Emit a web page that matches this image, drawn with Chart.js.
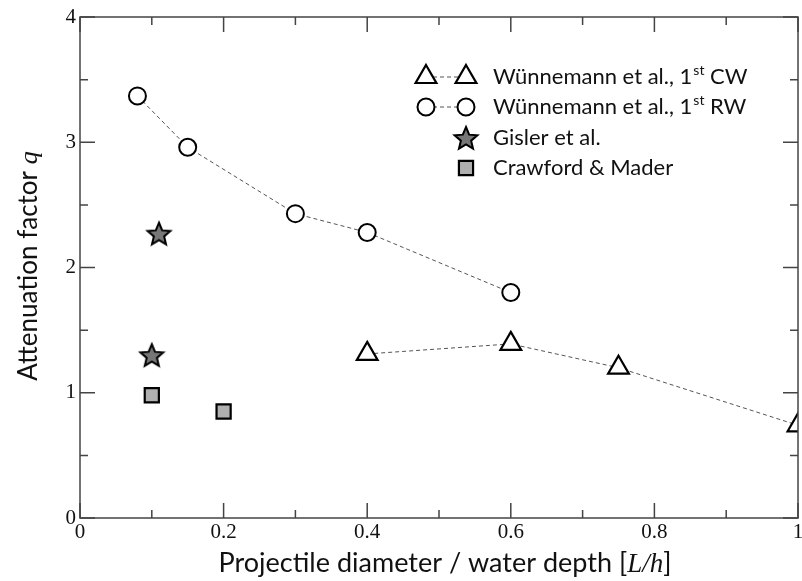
<!DOCTYPE html>
<html>
<head>
<meta charset="utf-8">
<script src="https://cdn.jsdelivr.net/npm/chart.js@4/dist/chart.umd.min.js"></script>
<style>
  html, body { margin: 0; padding: 0; background: #fff; }
  #wrap { width: 802px; height: 581px; }
</style>
</head>
<body>
<div id="wrap"><canvas id="chart" width="802" height="581"></canvas></div>
<script>
// data
const cwX = [0.4, 0.6, 0.75, 1.0];
const cwY = [1.31, 1.39, 1.20, 0.74];
const rwX = [0.08, 0.15, 0.30, 0.40, 0.60];
const rwY = [3.37, 2.96, 2.43, 2.28, 1.80];
const gislerX = [0.11, 0.10];
const gislerY = [2.27, 1.30];
const crawX = [0.10, 0.20];
const crawY = [0.98, 0.85];

const xTicks = [0, 0.2, 0.4, 0.6, 0.8, 1];
const xTickLabels = ['0', '0.2', '0.4', '0.6', '0.8', '1'];
const xMinor = [0.1, 0.3, 0.5, 0.7, 0.9];
const yTicks = [0, 1, 2, 3, 4];
const yTickLabels = ['0', '1', '2', '3', '4'];
const yMinor = [0.5, 1.5, 2.5, 3.5];

const legendNames = [
  ['Wünnemann et al., 1', 'st', ' CW'],
  ['Wünnemann et al., 1', 'st', ' RW'],
  ['Gisler et al.', '', ''],
  ['Crawford & Mader', '', '']
];

const pts = (xs, ys) => xs.map((x, i) => ({ x: x, y: ys[i] }));

// filled 5-point star as a point style
function makeStar(size, fill) {
  const c = document.createElement('canvas');
  c.width = size; c.height = size;
  const g = c.getContext('2d');
  const cx = size / 2, cy = size / 2 + 1, ro = size / 2 - 2, ri = ro * 0.45;
  g.beginPath();
  for (let i = 0; i < 10; i++) {
    const r = i % 2 === 0 ? ro : ri;
    const a = -Math.PI / 2 + i * Math.PI / 5;
    g.lineTo(cx + r * Math.cos(a), cy + r * Math.sin(a));
  }
  g.closePath();
  g.fillStyle = fill;
  g.fill();
  g.lineWidth = 2;
  g.lineJoin = 'miter';
  g.strokeStyle = '#000';
  g.stroke();
  return c;
}
const starImg = makeStar(28, '#777777');

const lineColor = '#555555';

// axes frame, inward ticks, labels, titles and legend
const decor = {
  id: 'decor',
  afterDraw(chart) {
    const ctx = chart.ctx;
    const a = chart.chartArea;
    const xs = chart.scales.x, ys = chart.scales.y;
    ctx.save();
    ctx.strokeStyle = '#444';
    ctx.lineWidth = 1.5;
    ctx.strokeRect(a.left, a.top, a.right - a.left, a.bottom - a.top);

    const tick = (p, len, horiz) => {
      ctx.beginPath();
      if (horiz) {
        ctx.moveTo(p, a.bottom); ctx.lineTo(p, a.bottom - len);
        ctx.moveTo(p, a.top); ctx.lineTo(p, a.top + len);
      } else {
        ctx.moveTo(a.left, p); ctx.lineTo(a.left + len, p);
        ctx.moveTo(a.right, p); ctx.lineTo(a.right - len, p);
      }
      ctx.stroke();
    };
    xTicks.forEach(v => tick(xs.getPixelForValue(v), 15, true));
    xMinor.forEach(v => tick(xs.getPixelForValue(v), 8, true));
    yTicks.forEach(v => tick(ys.getPixelForValue(v), 15, false));
    yMinor.forEach(v => tick(ys.getPixelForValue(v), 8, false));

    ctx.fillStyle = '#111';
    ctx.font = '21px "Liberation Serif", serif';
    ctx.textAlign = 'center';
    ctx.textBaseline = 'top';
    xTicks.forEach((v, i) => ctx.fillText(xTickLabels[i], xs.getPixelForValue(v), a.bottom + 4));
    ctx.textAlign = 'right';
    ctx.textBaseline = 'middle';
    yTicks.forEach((v, i) => ctx.fillText(yTickLabels[i], a.left - 4, ys.getPixelForValue(v)));

    // x title with italic part
    const sans = '"Lato", "Open Sans", sans-serif';
    const parts = [
      ['Projectile diameter / water depth [', '27px ' + sans],
      ['L/h', 'italic 27px "Liberation Serif", serif'],
      [']', '27px ' + sans]
    ];
    let w = 0;
    parts.forEach(p => { ctx.font = p[1]; w += ctx.measureText(p[0]).width; });
    let x = 445 - w / 2;
    ctx.textAlign = 'left';
    ctx.textBaseline = 'alphabetic';
    parts.forEach(p => { ctx.font = p[1]; ctx.fillText(p[0], x, 572); x += ctx.measureText(p[0]).width; });

    // y title, rotated
    ctx.save();
    ctx.translate(37, 266);
    ctx.rotate(-Math.PI / 2);
    const yparts = [
      ['Attenuation factor ', '26px ' + sans],
      ['q', 'italic 26px "Liberation Serif", serif']
    ];
    w = 0;
    yparts.forEach(p => { ctx.font = p[1]; w += ctx.measureText(p[0]).width; });
    x = -w / 2;
    yparts.forEach(p => { ctx.font = p[1]; ctx.fillText(p[0], x, 0); x += ctx.measureText(p[0]).width; });
    ctx.restore();

    // legend
    const rows = [77, 107, 138, 168];
    const sx1 = 426, sx2 = 466, tx = 493;
    const ds = chart.data.datasets;
    rows.forEach((ry, i) => {
      const d = ds[i];
      if (i < 2) {
        ctx.save();
        ctx.strokeStyle = lineColor;
        ctx.lineWidth = 1;
        ctx.setLineDash([4, 3]);
        ctx.beginPath(); ctx.moveTo(sx1, ry); ctx.lineTo(sx2, ry); ctx.stroke();
        ctx.restore();
      }
      const opts = {
        pointStyle: d.pointStyle, radius: d.pointRadius, rotation: 0,
        borderWidth: d.pointBorderWidth
      };
      ctx.save();
      ctx.fillStyle = d.pointBackgroundColor;
      ctx.strokeStyle = '#000';
      ctx.lineWidth = d.pointBorderWidth;
      if (i < 2) Chart.helpers.drawPoint(ctx, opts, sx1, ry);
      Chart.helpers.drawPoint(ctx, opts, sx2, ry);
      ctx.restore();

      const n = legendNames[i];
      ctx.fillStyle = '#111';
      ctx.textBaseline = 'middle';
      ctx.font = '22px ' + sans;
      let lx = tx;
      ctx.fillText(n[0], lx, ry);
      lx += ctx.measureText(n[0]).width;
      if (n[1]) {
        ctx.font = '14px ' + sans;
        ctx.fillText(n[1], lx + 1, ry - 7);
        lx += ctx.measureText(n[1]).width + 1;
        ctx.font = '22px ' + sans;
        ctx.fillText(n[2], lx, ry);
      }
    });
    ctx.restore();
  }
};

new Chart(document.getElementById('chart'), {
  type: 'scatter',
  data: {
    datasets: [
      {
        label: 'Wünnemann et al., 1st CW',
        data: pts(cwX, cwY),
        showLine: true,
        borderColor: lineColor,
        borderWidth: 1,
        borderDash: [4, 3],
        pointStyle: 'triangle',
        pointRadius: 12,
        pointBorderWidth: 2.2,
        pointBorderColor: '#000',
        pointBackgroundColor: '#fff'
      },
      {
        label: 'Wünnemann et al., 1st RW',
        data: pts(rwX, rwY),
        showLine: true,
        borderColor: lineColor,
        borderWidth: 1,
        borderDash: [4, 3],
        pointStyle: 'circle',
        pointRadius: 8.5,
        pointBorderWidth: 2,
        pointBorderColor: '#000',
        pointBackgroundColor: '#fff'
      },
      {
        label: 'Gisler et al.',
        data: pts(gislerX, gislerY),
        pointStyle: starImg,
        pointRadius: 14,
        pointBorderWidth: 2,
        pointBackgroundColor: '#777777'
      },
      {
        label: 'Crawford & Mader',
        data: pts(crawX, crawY),
        pointStyle: 'rect',
        pointRadius: 10,
        pointBorderWidth: 2.2,
        pointBorderColor: '#000',
        pointBackgroundColor: '#b0b0b0'
      }
    ]
  },
  options: {
    responsive: false,
    animation: false,
    layout: { autoPadding: false, padding: { left: 80, right: 4, top: 17, bottom: 63 } },
    plugins: { legend: { display: false }, tooltip: { enabled: false } },
    scales: {
      x: { type: 'linear', min: 0, max: 1, display: false },
      y: { type: 'linear', min: 0, max: 4, display: false }
    }
  },
  plugins: [decor]
});
</script>
</body>
</html>
